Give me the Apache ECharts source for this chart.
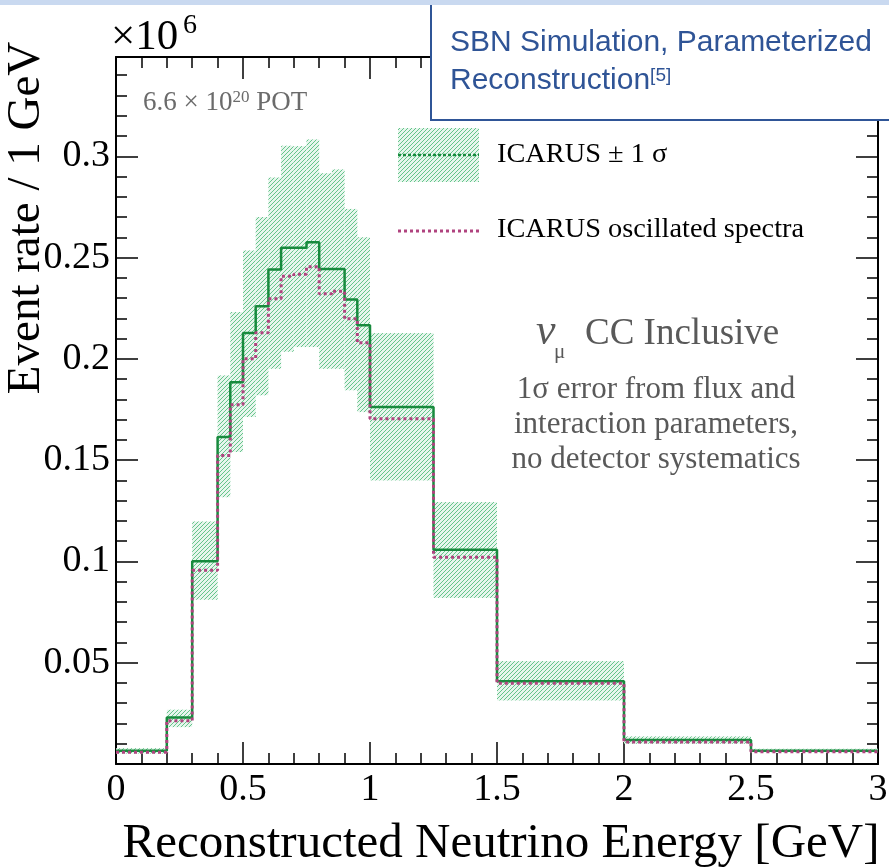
<!DOCTYPE html>
<html>
<head>
<meta charset="utf-8">
<script src="https://cdn.jsdelivr.net/npm/echarts@6/dist/echarts.min.js"></script>
<style>
  html, body { margin: 0; padding: 0; background: #fff; }
  #chart { width: 889px; height: 867px; }
</style>
</head>
<body>
<div id="chart"></div>
<script>
// bin edges in GeV (variable width, ROOT-style histogram)
const binEdges = [0, 0.2, 0.3, 0.4, 0.45, 0.5, 0.55, 0.6, 0.65, 0.7, 0.75,
  0.8, 0.85, 0.9, 0.95, 1.0, 1.25, 1.5, 2.0, 2.5, 3.0];

// event rate / 1 GeV, in units of 1e6
const icarusNominal = [0.0065, 0.0230, 0.1001, 0.1614, 0.1885, 0.2127, 0.2260,
  0.2441, 0.2548, 0.2548, 0.2576, 0.2443, 0.2443, 0.2293, 0.2166, 0.1762,
  0.1058, 0.0408, 0.0118, 0.0066];
const icarusOscillated = [0.0058, 0.0214, 0.0956, 0.1523, 0.1773, 0.2000, 0.2129,
  0.2297, 0.2408, 0.2418, 0.2454, 0.2321, 0.2334, 0.2198, 0.2079, 0.1704,
  0.1021, 0.0398, 0.0108, 0.0060];

// +-1 sigma band
const sigmaHigh = [0.0078, 0.0268, 0.1197, 0.1918, 0.2231, 0.2535, 0.2700,
  0.2895, 0.3052, 0.3050, 0.3083, 0.2916, 0.2935, 0.2740, 0.2600, 0.2127,
  0.1293, 0.0508, 0.0136, 0.0075];
const sigmaLow = [0.0052, 0.0182, 0.0811, 0.1317, 0.1540, 0.1713, 0.1820,
  0.1951, 0.2035, 0.2058, 0.2058, 0.1951, 0.1951, 0.1845, 0.1737, 0.1400,
  0.0820, 0.0314, 0.0100, 0.0058];

const xMin = 0, xMax = 3, xStep = 0.5;
const yMin = 0, yMax = 0.349, yStep = 0.05;

const GREEN = '#178a3d';
const PINK = '#b0437f';
const HATCH = '#64c48a';
const HATCH_BG = '#e7f6ed';
const SERIF = '"Liberation Serif", "Times New Roman", serif';
const SANS = '"Liberation Sans", Arial, sans-serif';

// histogram outline as step points
function stepPoints(values) {
  const pts = values.map((v, i) => [binEdges[i], v]);
  pts.push([binEdges[binEdges.length - 1], values[values.length - 1]]);
  return pts;
}

// "/" hatching (like ROOT fill 3004) clipped to a pixel box
function hatchBox(x0, y0, x1, y1) {
  const gap = 4;
  const out = [{
    type: 'rect',
    shape: { x: x0, y: y0, width: x1 - x0, height: y1 - y0 },
    style: { fill: HATCH_BG, stroke: null }
  }];
  const kStart = Math.ceil((x0 + y0) / gap) * gap;
  for (let k = kStart; k <= x1 + y1; k += gap) {
    const xa = Math.max(x0, k - y1);
    const xb = Math.min(x1, k - y0);
    if (xb <= xa) continue;
    out.push({
      type: 'line',
      shape: { x1: xa, y1: k - xa, x2: xb, y2: k - xb },
      style: { stroke: HATCH, lineWidth: 1 }
    });
  }
  return out;
}

const bandData = sigmaLow.map((lo, i) => [binEdges[i], binEdges[i + 1], lo, sigmaHigh[i]]);

function renderBand(params, api) {
  const a = api.coord([api.value(0), api.value(3)]);
  const b = api.coord([api.value(1), api.value(2)]);
  return { type: 'group', children: hatchBox(a[0], a[1], b[0], b[1]) };
}

const tickStyle = { color: '#000', width: 1.5 };

function xAxisCfg(position, showLabel) {
  return {
    type: 'value', position: position,
    min: xMin, max: xMax, interval: xStep,
    axisLine: { show: true, onZero: false, lineStyle: { color: '#000', width: 2 } },
    axisTick: { show: true, inside: true, length: 22, lineStyle: tickStyle },
    minorTick: { show: true, splitNumber: 5, length: 11, lineStyle: tickStyle },
    splitLine: { show: false },
    axisLabel: {
      show: showLabel, color: '#000', fontFamily: SERIF, fontSize: 38, margin: 7
    }
  };
}

function yAxisCfg(position, showLabel) {
  return {
    type: 'value', position: position,
    min: yMin, max: yMax, interval: yStep,
    axisLine: { show: true, onZero: false, lineStyle: { color: '#000', width: 2 } },
    axisTick: { show: true, inside: true, length: 22, lineStyle: tickStyle },
    minorTick: { show: true, splitNumber: 5, length: 11, lineStyle: tickStyle },
    splitLine: { show: false },
    axisLabel: {
      show: showLabel, color: '#000', fontFamily: SERIF, fontSize: 38, margin: 6,
      showMaxLabel: false,
      formatter: v => (v === 0 ? '' : String(parseFloat(v.toFixed(3))))
    }
  };
}

const chart = echarts.init(document.getElementById('chart'), null, { renderer: 'canvas' });

chart.setOption({
  backgroundColor: '#fff',
  animation: false,
  grid: { left: 116, right: 11, top: 57, bottom: 103, outerBoundsMode: 'none', containLabel: false },
  xAxis: [
    Object.assign(xAxisCfg('bottom', true), {
      name: 'Reconstructed Neutrino Energy [GeV]',
      nameLocation: 'middle',
      nameGap: 56,
      nameTextStyle: { color: '#000', fontFamily: SERIF, fontSize: 49, padding: [0, 0, 0, 8] }
    }),
    xAxisCfg('top', false)
  ],
  yAxis: [yAxisCfg('left', true), yAxisCfg('right', false)],
  series: [
    {
      name: 'ICARUS ± 1 σ band',
      type: 'custom',
      renderItem: renderBand,
      data: bandData,
      encode: { x: [0, 1], y: [2, 3] },
      clip: true,
      silent: true,
      z: 1
    },
    {
      name: 'ICARUS',
      type: 'line',
      step: 'end',
      data: stepPoints(icarusNominal),
      showSymbol: false,
      symbol: 'none',
      lineStyle: { color: GREEN, width: 2.5 },
      z: 3
    },
    {
      name: 'ICARUS oscillated spectra',
      type: 'line',
      step: 'end',
      data: stepPoints(icarusOscillated),
      showSymbol: false,
      symbol: 'none',
      lineStyle: { color: PINK, width: 3, type: [3, 3] },
      z: 4
    }
  ],
  graphic: [
    // slide strip at the top
    { type: 'rect', left: 0, top: 0, z: 50, shape: { width: 889, height: 5 },
      style: { fill: '#c9d9f0' } },
    // y axis title
    { type: 'text', x: 27, y: 218, rotation: Math.PI / 2, z: 20,
      style: { text: 'Event rate / 1 GeV', fill: '#000', font: '47px ' + SERIF,
        align: 'center', verticalAlign: 'middle' } },
    // x10^6 multiplier
    { type: 'text', x: 111, y: 38, z: 20,
      style: { text: '×10', fill: '#000', font: '43px ' + SERIF,
        align: 'left', verticalAlign: 'middle' } },
    { type: 'text', x: 183, y: 26, z: 20,
      style: { text: '6', fill: '#000', font: '28px ' + SERIF,
        align: 'left', verticalAlign: 'middle' } },
    // POT label
    { type: 'text', x: 143, y: 103, z: 20,
      style: { text: '{b|6.6 × 10}{s|20}{b| POT}', align: 'left', verticalAlign: 'middle',
        rich: {
          b: { fontFamily: SERIF, fontSize: 27, fill: '#6b6b6b', verticalAlign: 'bottom' },
          s: { fontFamily: SERIF, fontSize: 17, fill: '#6b6b6b', verticalAlign: 'top' }
        } } },
    // legend
    { type: 'group', z: 20, children: hatchBox(398, 128, 479, 182) },
    { type: 'line', z: 21, shape: { x1: 398, y1: 155, x2: 479, y2: 155 },
      style: { stroke: GREEN, lineWidth: 2.5, lineDash: [3, 2] } },
    { type: 'text', x: 497, y: 155, scaleX: 1.05, z: 21,
      style: { text: 'ICARUS ± 1 σ', fill: '#000', font: '27px ' + SERIF,
        align: 'left', verticalAlign: 'middle' } },
    { type: 'line', z: 21, shape: { x1: 398, y1: 231, x2: 479, y2: 231 },
      style: { stroke: PINK, lineWidth: 3, lineDash: [3, 3] } },
    { type: 'text', x: 497, y: 230, scaleX: 1.05, z: 21,
      style: { text: 'ICARUS oscillated spectra', fill: '#000', font: '27px ' + SERIF,
        align: 'left', verticalAlign: 'middle' } },
    // nu_mu CC inclusive note
    { type: 'text', x: 536, y: 332, z: 21,
      style: { text: 'ν', fill: '#595959', font: 'italic 44px ' + SERIF,
        align: 'left', verticalAlign: 'middle' } },
    { type: 'text', x: 554, y: 352, z: 21,
      style: { text: 'μ', fill: '#595959', font: '21px ' + SERIF,
        align: 'left', verticalAlign: 'middle' } },
    { type: 'text', x: 585, y: 334, z: 21,
      style: { text: 'CC Inclusive', fill: '#595959', font: '37px ' + SERIF,
        align: 'left', verticalAlign: 'middle' } },
    { type: 'text', x: 656, y: 425, z: 21,
      style: { text: '1σ error from flux and\ninteraction parameters,\nno detector systematics',
        fill: '#595959', font: '31px ' + SERIF, lineHeight: 35,
        align: 'center', verticalAlign: 'middle' } },
    // slide annotation box
    { type: 'rect', z: 40, shape: { x: 431, y: 3, width: 470, height: 117 },
      style: { fill: '#fff', stroke: '#2f5597', lineWidth: 2 } },
    { type: 'text', x: 450, y: 43, z: 41,
      style: { text: 'SBN Simulation, Parameterized', fill: '#2f5496',
        font: '30px ' + SANS, align: 'left', verticalAlign: 'middle' } },
    { type: 'text', x: 450, y: 81, z: 41,
      style: { text: '{m|Reconstruction}{s|[5]}', align: 'left', verticalAlign: 'middle',
        rich: {
          m: { fontFamily: SANS, fontSize: 30, fill: '#2f5496', verticalAlign: 'bottom' },
          s: { fontFamily: SANS, fontSize: 19, fill: '#2f5496', verticalAlign: 'top' }
        } } }
  ]
});
</script>
</body>
</html>
